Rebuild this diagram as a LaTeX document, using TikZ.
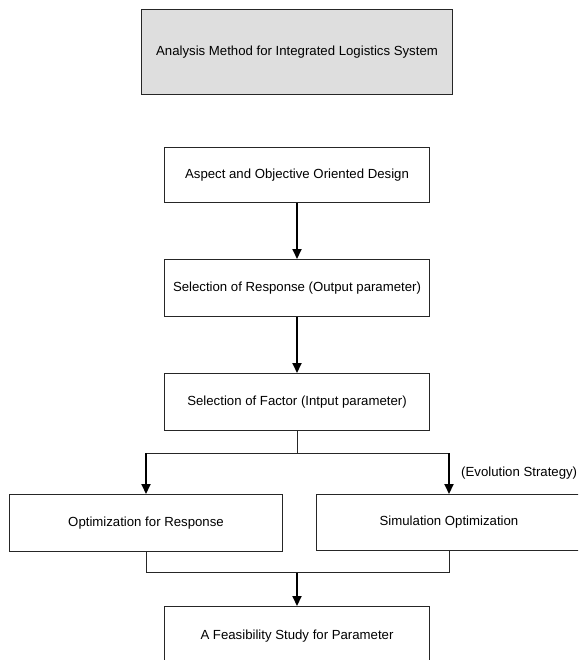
\documentclass[tikz,border=0pt]{standalone}
\usepackage{fontspec}
\setmainfont{Liberation Sans}
\usetikzlibrary{arrows.meta}
\begin{document}
\begin{tikzpicture}[x=1pt,y=-1pt,
  box/.style={draw=black!85,line width=1pt,rectangle,inner sep=0pt,
    font=\fontsize{13.2}{15}\selectfont},
  flow/.style={line width=2pt,-{Triangle[length=10pt,width=9pt]}},
  link/.style={line width=1pt,draw=black!85}]
\clip (0,0) rectangle (578,660);
\fill[white] (0,0) rectangle (578,660);
\node[box,fill=black!13,minimum width=311pt,minimum height=85pt] (top) at (297,52) {Analysis Method for Integrated Logistics System};
\node[box,minimum width=265pt,minimum height=55pt] (aspect) at (297,175) {Aspect and Objective Oriented Design};
\node[box,minimum width=265pt,minimum height=57pt] (resp) at (297,288) {Selection of Response (Output parameter)};
\node[box,minimum width=265pt,minimum height=57pt] (fact) at (297,402) {Selection of Factor (Intput parameter)};
\node[box,minimum width=273pt,minimum height=57pt] (left) at (146,523) {Optimization for Response};
\node[box,minimum width=265pt,minimum height=56pt] (right) at (449,522.5) {Simulation Optimization};
\node[box,minimum width=265pt,minimum height=59pt] (bot) at (297,636) {A Feasibility Study for Parameter};
\node[anchor=west,inner sep=0pt,font=\fontsize{13.2}{15}\selectfont] (evo) at (461,473) {(Evolution Strategy)};
\draw[flow] (aspect.south) -- (resp.north);
\draw[flow] (resp.south) -- (fact.north);
\draw[link] (fact.south) -- ++(0,22) coordinate (b1);
\draw[link] (left.north |- b1) -- (right.north |- b1);
\draw[flow] (left.north |- b1) -- (left.north);
\draw[flow] (right.north |- b1) -- (right.north);
\coordinate (b2) at (297,572.5);
\draw[link] (left.south) -- (left.south |- b2) -- (right.south |- b2) -- (right.south);
\draw[flow] (bot.north |- b2) -- (bot.north);
\end{tikzpicture}
\end{document}
